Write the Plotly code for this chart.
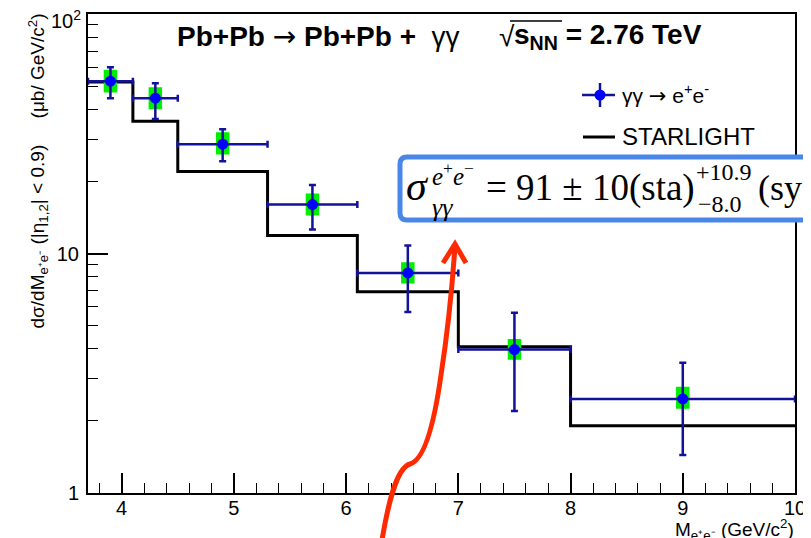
import plotly.graph_objects as go

# ---------------- data ----------------
bin_edges = [3.7, 4.1, 4.5, 5.3, 6.1, 7.0, 8.0, 10.0]
x_centers = [3.9, 4.3, 4.9, 5.7, 6.55, 7.5, 9.0]
y_data = [52.4, 44.5, 28.6, 16.0, 8.3, 3.97, 2.47]
y_stat_hi = [60.0, 51.4, 33.0, 19.3, 10.8, 5.66, 3.50]
y_stat_lo = [44.5, 36.4, 24.3, 12.6, 5.7, 2.2, 1.44]
y_sys_hi = [58.5, 49.5, 32.1, 17.8, 9.2, 4.4, 2.78]
y_sys_lo = [47.0, 40.0, 25.9, 14.4, 7.5, 3.6, 2.25]
starlight = [52.0, 35.7, 22.0, 11.9, 6.93, 4.08, 1.91]

x_ticks = [4, 5, 6, 7, 8, 9, 10]
y_tickvals = [1, 10, 100]
y_ticktext = ["1", "10", ""]
y_top_label = "10<sup>2</sup>"
y_minor = [2, 3, 4, 5, 6, 7, 8, 9, 20, 30, 40, 50, 60, 70, 80, 90]

# ---------------- geometry (reference pixels -> paper) ----------------
PAGE_W, PAGE_H = 811, 538
OFF = 8                     # default page body margin
W, H = PAGE_W - OFF, PAGE_H - OFF
X0, X1, Y0, Y1 = 88, 795, 14, 493   # plot frame in page pixels


def px(x):
    return (x - X0) / (X1 - X0)


def py(y):
    return (Y1 - y) / (Y1 - Y0)


SANS = "Liberation Sans"
SERIF = "Liberation Serif"
ERR = "#12129a"
ARROW = "<span style=\"font-family:'DejaVu Sans'\">→</span>"

fig = go.Figure()

# STARLIGHT histogram
fig.add_trace(go.Scatter(
    x=bin_edges, y=starlight + [starlight[-1]], mode="lines",
    line=dict(color="black", width=3, shape="hv"), showlegend=False,
    hoverinfo="skip"))

# systematic boxes
half_w = 0.06
bx, by = [], []
for xc, lo, hi in zip(x_centers, y_sys_lo, y_sys_hi):
    bx += [xc - half_w, xc + half_w, xc + half_w, xc - half_w, xc - half_w, None]
    by += [lo, lo, hi, hi, lo, None]
fig.add_trace(go.Scatter(
    x=bx, y=by, mode="lines", fill="toself", fillcolor="#00ee00",
    line=dict(width=0, color="#00ee00"), showlegend=False, hoverinfo="skip"))

# data points with stat errors
ex_minus = [xc - lo for xc, lo in zip(x_centers, bin_edges[:-1])]
ex_plus = [hi - xc for xc, hi in zip(x_centers, bin_edges[1:])]
ey_plus = [h - y for h, y in zip(y_stat_hi, y_data)]
ey_minus = [y - l for l, y in zip(y_stat_lo, y_data)]
fig.add_trace(go.Scatter(
    x=x_centers, y=y_data, mode="markers",
    marker=dict(color="#0000ff", size=11),
    error_x=dict(type="data", symmetric=False, array=ex_plus, arrayminus=ex_minus,
                 color=ERR, thickness=2.5, width=3.5),
    error_y=dict(type="data", symmetric=False, array=ey_plus, arrayminus=ey_minus,
                 color=ERR, thickness=2.5, width=3.5),
    showlegend=False))

shapes = []
annotations = []


def text(x, y, t, size, family=SANS, xanchor="left", yanchor="middle", **kw):
    annotations.append(dict(xref="paper", yref="paper", x=px(x), y=py(y),
                            xanchor=xanchor, yanchor=yanchor, showarrow=False,
                            text=t, font=dict(family=family, size=size, color="black"),
                            **kw))


# ---- top y tick label ----
text(83, 19, y_top_label, 20, xanchor="right")

# ---- manual legend ----
shapes.append(dict(type="line", xref="paper", yref="paper",
                   x0=px(582), x1=px(615), y0=py(95), y1=py(95),
                   line=dict(color=ERR, width=2.5)))
shapes.append(dict(type="line", xref="paper", yref="paper",
                   x0=px(600), x1=px(600), y0=py(83), y1=py(107),
                   line=dict(color=ERR, width=2.5)))
shapes.append(dict(type="circle", xref="paper", yref="paper",
                   x0=px(594.5), x1=px(605.5), y0=py(89.5), y1=py(100.5),
                   fillcolor="#0000ff", line=dict(color="#0000ff", width=0)))
shapes.append(dict(type="line", xref="paper", yref="paper",
                   x0=px(583), x1=px(615), y0=py(137), y1=py(137),
                   line=dict(color="black", width=3)))
text(620, 95, "γγ " + ARROW + " e<sup>+</sup>e<sup>-</sup>", 21)
text(620, 137, "STARLIGHT", 24)

# ---- title ----
text(175, 37, "<b>Pb+Pb</b> " + ARROW + " <b>Pb+Pb +</b>\u00a0 γγ", 28)
text(497, 37, "√", 28)
text(512, 37, "<b>s<sub>NN</sub> = 2.76 TeV</b>", 28)
shapes.append(dict(type="line", xref="paper", yref="paper",
                   x0=px(510), x1=px(562), y0=py(21), y1=py(21),
                   line=dict(color="black", width=1.5)))

# ---- axis titles ----
annotations.append(dict(
    xref="paper", yref="paper", x=px(38), y=py(12),
    xanchor="center", yanchor="top", showarrow=False, textangle=-90,
    text=("dσ/dM<sub>e⁺e⁻</sub> (|η<sub>1,2</sub>| &lt; 0.9)"
          "\u00a0\u00a0\u00a0\u00a0\u00a0(μb/ GeV/c<sup>2</sup>)"),
    font=dict(family=SANS, size=19, color="black")))
text(796, 529, "M<sub>e⁺e⁻</sub> (GeV/c<sup>2</sup>)", 19, xanchor="right")

# ---- highlighted formula box ----
L, R, T, B, r = 400, 845, 157, 220, 7
box_path = (f"M {px(L + r)},{py(T)} L {px(R)},{py(T)} L {px(R)},{py(B)} "
            f"L {px(L + r)},{py(B)} Q {px(L)},{py(B)} {px(L)},{py(B - r)} "
            f"L {px(L)},{py(T + r)} Q {px(L)},{py(T)} {px(L + r)},{py(T)} Z")
shapes.append(dict(type="path", xref="paper", yref="paper", path=box_path,
                   fillcolor="white", line=dict(color="#4a86e8", width=5),
                   layer="above"))

text(404, 186, "<i>σ</i>", 42, family=SERIF)
text(430, 174, "<i>e</i><sup>+</sup><i>e</i><sup>−</sup>", 25, family=SERIF)
text(430, 207, "<i>γγ</i>", 26, family=SERIF)
text(484, 188, "= 91 ± 10(sta)", 37, family=SERIF)
text(694, 172, "+10.9", 24, family=SERIF)
text(696, 204, "−8.0", 24, family=SERIF)
text(756, 188, "(syst)", 36, family=SERIF)

# ---- red hand-drawn arrow ----
arrow_path = (f"M {px(382)},{py(540)} C {px(388)},{py(505)} {px(396)},{py(468)} {px(410)},{py(464)} "
              f"C {px(424)},{py(460)} {px(434)},{py(425)} {px(441)},{py(375)} "
              f"C {px(448)},{py(330)} {px(452)},{py(290)} {px(455)},{py(246)}")
shapes.append(dict(type="path", xref="paper", yref="paper", path=arrow_path,
                   line=dict(color="#ff2a00", width=5), layer="above"))
head_path = f"M {px(443)},{py(263)} L {px(455)},{py(244)} L {px(466)},{py(263)}"
shapes.append(dict(type="path", xref="paper", yref="paper", path=head_path,
                   line=dict(color="#ff2a00", width=5), layer="above"))

axis_common = dict(showline=True, linecolor="black", linewidth=2, mirror=True,
                   showgrid=False, zeroline=False, ticks="inside", ticklen=20,
                   tickwidth=1.5, tickcolor="black", automargin=False,
                   tickfont=dict(family=SANS, size=20, color="black"))

fig.update_layout(
    width=W, height=H,
    margin=dict(l=X0 - OFF, r=PAGE_W - X1, t=Y0 - OFF, b=PAGE_H - Y1, pad=0),
    paper_bgcolor="white", plot_bgcolor="white",
    showlegend=False,
    xaxis=dict(range=[3.7, 10], tickvals=x_ticks, ticklabelstandoff=-4,
               minor=dict(ticks="inside", ticklen=10, dtick=0.2, tick0=0,
                          tickcolor="black", tickwidth=1.2, showgrid=False),
               **axis_common),
    yaxis=dict(type="log", range=[0, 2], tickvals=y_tickvals, ticktext=y_ticktext,
               ticklabelstandoff=3,
               minor=dict(ticks="inside", ticklen=10, tickvals=y_minor,
                          tickcolor="black", tickwidth=1.2, showgrid=False),
               **axis_common),
    shapes=shapes, annotations=annotations,
)

fig.write_html("out.html")
